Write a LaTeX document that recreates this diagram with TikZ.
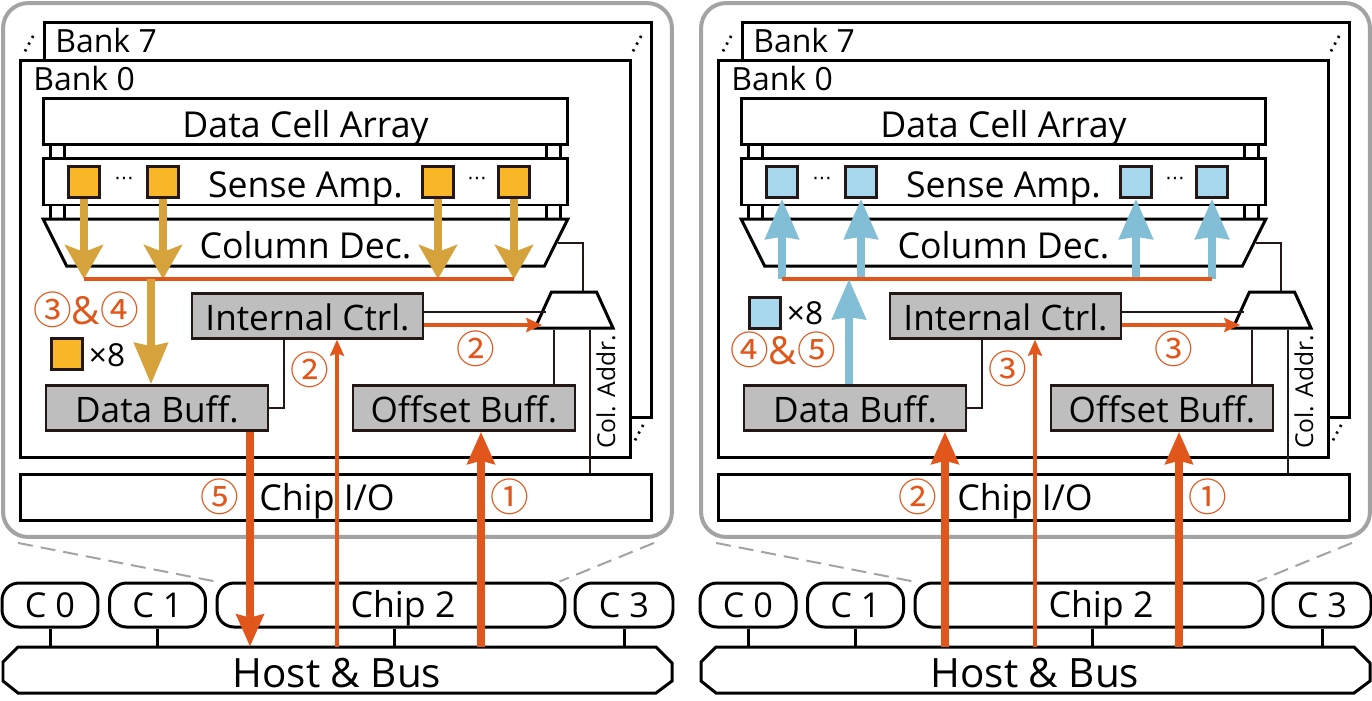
\documentclass[tikz,border=0pt]{standalone}
\usepackage{fontspec}
\setmainfont{Open Sans}
\newfontfamily\circfont{Noto Sans CJK JP}
\newfontfamily\dotfont{DejaVu Sans}
\usetikzlibrary{arrows.meta,shapes.geometric}
\definecolor{panelgray}{HTML}{A3A3A3}
\definecolor{buffgray}{HTML}{BEBEBE}
\definecolor{darkline}{HTML}{231815}
\definecolor{flowred}{HTML}{E1561A}
\definecolor{flowgold}{HTML}{D5A23C}
\definecolor{flowblue}{HTML}{83BED7}
\definecolor{cellgold}{HTML}{F9B627}
\definecolor{cellblue}{HTML}{A6D7EC}
\tikzset{
  box/.style={draw=black,fill=white,line width=.06cm,inner sep=0pt},
  capbase/.style={text height=2*#1,text depth=0pt},
  buff/.style={draw=darkline,fill=buffgray,line width=.05cm,inner sep=0pt,
    minimum height=.9cm,capbase=.29cm,font=\fontsize{20}{24}\selectfont},
  chipbox/.style={box,rounded corners=.34cm,minimum height=.88cm,capbase=.25cm},
  cellbox/.style={draw=darkline,line width=.05cm,minimum size=.62cm,inner sep=0pt},
  wire/.style={darkline,line width=.04cm},
  word/.style={font=\fontsize{20.3}{24}\selectfont,inner sep=0pt},
  bankword/.style={font=\fontsize{18.2}{22}\selectfont,inner sep=0pt},
  keyword/.style={font=\fontsize{18}{22}\selectfont,inner sep=0pt},
  smallword/.style={font=\fontsize{14}{17}\selectfont,inner sep=0pt},
  dots/.style={font=\dotfont\fontsize{13}{15}\selectfont,inner sep=0pt,rotate=62},
  hdots/.style={font=\dotfont\fontsize{11}{13}\selectfont,inner sep=0pt},
  num/.style={text=flowred,inner sep=0pt,font=\circfont\fontsize{22}{26}\selectfont},
  zoomline/.style={panelgray,line width=.04cm,dash pattern=on .3cm off .16cm},
  goldfan/.style={flowgold,line width=.16cm,-{Stealth[length=.68cm,width=.76cm,inset=.14cm]}},
  goldbig/.style={flowgold,line width=.16cm,-{Stealth[length=.82cm,width=.66cm,inset=.06cm]}},
  bluefan/.style={flowblue,line width=.16cm,-{Stealth[length=.8cm,width=.66cm,inset=.04cm]}},
  mainflow/.style={flowred,line width=.16cm,-{Stealth[length=.64cm,width=.54cm,inset=.06cm]}},
  ctrlflow/.style={flowred,line width=.08cm,-{Stealth[length=.32cm,width=.28cm,inset=.05cm]}},
}
\begin{document}
\begin{tikzpicture}[x=.02cm,y=-.02cm]
  \useasboundingbox (0,0) rectangle (1372,700);
  % The parts both panels share
  \foreach \p/\dx/\fc in {l/0/cellgold,r/698/cellblue} {
    \begin{scope}[xshift=\dx*.02cm]
      % Chip outline and banks
      \node[draw=panelgray,line width=.08cm,rounded corners=.5cm,minimum width=13.38cm,minimum height=10.68cm] (\p-panel) at (337.5,270) {};
      \node[box,minimum width=12.16cm,minimum height=7.92cm] (\p-bank7) at (348,220) {};
      \node[box,minimum width=12.22cm,minimum height=7.96cm] (\p-bank0) at (325.5,259) {};
      \node[bankword,anchor=west] (\p-b7txt) at (55,41) {Bank 7};
      \node[bankword,anchor=west] (\p-b0txt) at (33,79) {Bank 0};
      \node[dots] (\p-dotsa) at (32,45) {⋯};
      \node[dots] (\p-dotsb) at (640,45) {⋯};
      \node[dots] (\p-dotsc) at (642,434) {⋯};
      % Array, sense amps and decoder
      \node[box,word,capbase=.31cm,minimum width=10.5cm,minimum height=.94cm] (\p-cell) at (305.5,121.5) {Data Cell Array};
      \node[box,word,capbase=.32cm,minimum width=10.5cm,minimum height=.94cm] (\p-sense) at (305.5,181.5) {Sense Amp.};
      \node[box,word,capbase=.32cm,trapezium,shape border rotate=180,trapezium stretches=true,trapezium left angle=72,trapezium right angle=72,minimum width=10.5cm,minimum height=.94cm] (\p-dec) at (305.5,242.5) {Column Dec.};
      \foreach \s in {.18,.46} {
        \draw[box] ([xshift=\s cm]\p-cell.south west) -- ([xshift=\s cm]\p-sense.north west);
        \draw[box] ([xshift=-\s cm]\p-cell.south east) -- ([xshift=-\s cm]\p-sense.north east);
        \draw[box] ([xshift=\s cm]\p-sense.south west) -- ++(0,14);
        \draw[box] ([xshift=-\s cm]\p-sense.south east) -- ++(0,14);
      }
      \foreach \n/\sx in {1/84,2/163,3/438,4/514} {
        \node[cellbox,fill=\fc] (\p-sq\n) at (\sx,182) {};
      }
      \node[hdots] (\p-dotsd) at (124,181) {⋯};
      \node[hdots] (\p-dotse) at (477,181) {⋯};
      % Buffers, control and mux
      \node[buff,minimum width=4.62cm] (\p-ictrl) at (307.5,316) {Internal Ctrl.};
      \node[buff,minimum width=4.44cm] (\p-dbuff) at (157,408) {Data Buff.};
      \node[buff,minimum width=4.44cm] (\p-obuff) at (464,408) {Offset Buff.};
      \node[box,inner sep=1pt,trapezium,trapezium stretches=true,trapezium left angle=70,trapezium right angle=70,minimum width=1.56cm,minimum height=.72cm] (\p-mux) at (574,310) {};
      \node[box,capbase=.27cm,font=\fontsize{20.3}{25}\selectfont,minimum width=12.64cm,minimum height=.92cm] (\p-io) at (336,497) {Chip I/O\hspace{.36cm}\null};
      \node[smallword,rotate=90] (\p-coladdr) at (606,392) {Col. Addr.};
      \draw[wire] ([xshift=-.47cm]\p-ictrl.south) |- (\p-dbuff.east);
      \draw[wire] ([yshift=.08cm]\p-ictrl.east) -- ++(122,0);
      \draw[wire] (\p-dec.east) -| ([xshift=.18cm]\p-mux.north);
      \draw[wire] ([xshift=-.4cm]\p-mux.south) -- ([xshift=-.4cm]\p-mux.south |- \p-obuff.north);
      \draw[wire] ([xshift=.32cm]\p-mux.south) -- ([xshift=.32cm]\p-mux.south |- \p-io.north);
      % Channel: chips and host
      \node[chipbox,font=\fontsize{19.5}{24}\selectfont,minimum width=1.92cm] (\p-c0) at (50,605) {C 0};
      \node[chipbox,font=\fontsize{19.5}{24}\selectfont,minimum width=1.92cm] (\p-c1) at (157.5,605) {C 1};
      \node[chipbox,font=\fontsize{20.3}{24}\selectfont,minimum width=6.96cm] (\p-chip) at (391,605) {\hspace{.48cm}Chip 2};
      \node[chipbox,font=\fontsize{19.5}{24}\selectfont,minimum width=1.96cm] (\p-c3) at (624,605) {C 3};
      \draw[box] (18,647) -- (656,647) -- (672,663) -- (672,681) -- (656,693) -- (18,693) -- (3,681) -- (3,662) -- cycle;
      \node[capbase=.35cm,inner sep=0pt,font=\fontsize{23}{27}\selectfont,minimum width=13.4cm,minimum height=.92cm] (\p-host) at (337,670) {Host \& Bus};
      \foreach \c in {c0,c1,c3} {
        \draw[box] (\p-\c.south) -- (\p-\c.south |- \p-host.north);
      }
      \draw[box] ([xshift=.06cm]\p-chip.south) -- ([xshift=.06cm]\p-chip.south |- \p-host.north);
      \draw[zoomline] ([xshift=.34cm,yshift=-.08cm]\p-panel.south west) -- (\p-chip.north west);
      \draw[zoomline] ([xshift=-.4cm,yshift=-.08cm]\p-panel.south east) -- ([xshift=-.14cm]\p-chip.north east);
      % Shared bus line
      \coordinate (\p-busw) at (84,279);
      \coordinate (\p-buse) at (514,279);
      % Arrows common to both
      \draw[ctrlflow] (\p-host.north) -- (\p-host.north |- \p-ictrl.south);
      \draw[mainflow] ([xshift=.34cm]\p-host.north -| \p-obuff.south) -- ([xshift=.34cm]\p-obuff.south);
      \draw[ctrlflow] ([yshift=-.18cm]\p-ictrl.east) -- ++(118,0);
    \end{scope}
  }
  % Left panel: read path
  \foreach \n in {1,2,3,4} {
    \draw[goldfan] (l-sq\n.south) -- (l-sq\n.south |- l-busw);
  }
  \draw[flowred,line width=.08cm] (l-busw) -- (l-buse);
  \draw[goldbig] ([xshift=-.12cm]l-dbuff.north |- l-busw) -- ([xshift=-.12cm]l-dbuff.north);
  \draw[mainflow] ([xshift=1.86cm]l-dbuff.south) -- ([xshift=1.86cm]l-dbuff.south |- l-host.north);
  \node[cellbox,fill=cellgold] (l-key) at (67,354) {};
  \node[keyword] (l-keytxt) at (107,355) {×8};
  \node[num] (l-n34) at (86,310) {③{\rmfamily\&}④};
  \node[num] (l-n5) at (220,497) {⑤};
  \node[num] (l-n2a) at (310,370) {②};
  \node[num] (l-n2b) at (476,349) {②};
  \node[num] (l-n1) at (510,497) {①};
  % Right panel: write path
  \foreach \n in {1,2,3,4} {
    \draw[bluefan] (r-sq\n.south |- r-busw) -- (r-sq\n.south);
  }
  \draw[flowred,line width=.08cm] (r-busw) -- (r-buse);
  \draw[bluefan] ([xshift=-.12cm]r-dbuff.north) -- ([xshift=-.12cm]r-dbuff.north |- r-busw);
  \draw[mainflow] ([xshift=1.8cm]r-host.north -| r-dbuff.south) -- ([xshift=1.8cm]r-dbuff.south);
  \node[cellbox,fill=cellblue] (r-key) at (765,313) {};
  \node[keyword] (r-keytxt) at (805,313) {×8};
  \node[num] (r-n45) at (783,350) {④{\rmfamily\&}⑤};
  \node[num] (r-n2) at (918,497) {②};
  \node[num] (r-n3a) at (1008,369) {③};
  \node[num] (r-n3b) at (1174,349) {③};
  \node[num] (r-n1) at (1208,497) {①};
\end{tikzpicture}
\end{document}
